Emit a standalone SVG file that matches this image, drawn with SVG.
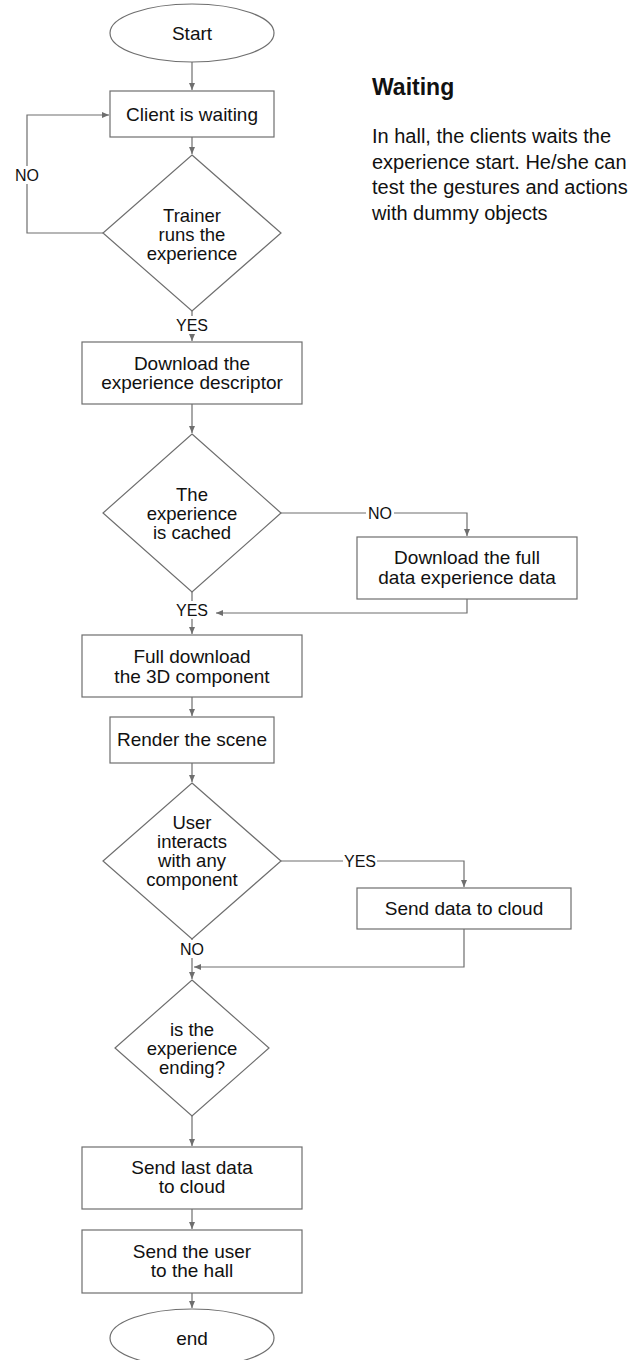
<svg xmlns="http://www.w3.org/2000/svg" width="634" height="1360" viewBox="0 0 634 1360">
<style>
.shape{fill:#fff;stroke:#6e6e6e;stroke-width:1.2}
.line{fill:none;stroke:#6e6e6e;stroke-width:1.2}
.t{font-family:"Liberation Sans",Arial,sans-serif;font-size:19px;fill:#111;text-anchor:middle}
.d{font-family:"Liberation Sans",Arial,sans-serif;font-size:18.5px;fill:#111;text-anchor:middle}
.lbl{font-family:"Liberation Sans",Arial,sans-serif;font-size:16px;fill:#111;text-anchor:middle}
.lblbg{fill:#fff;stroke:none}
.h{font-family:"Liberation Sans",Arial,sans-serif;font-size:23px;font-weight:bold;fill:#111}
.body{font-family:"Liberation Sans",Arial,sans-serif;font-size:20px;fill:#111}
</style>
<defs>
<marker id="arr" markerUnits="userSpaceOnUse" markerWidth="8" markerHeight="8" refX="7" refY="4" orient="auto">
<path d="M0,1 L7,4 L0,7 z" fill="#6e6e6e"/>
</marker>
</defs>
<rect width="634" height="1360" fill="#fff"/>

<g id="connectors">
<path class="line" d="M192,62 V90" marker-end="url(#arr)"/>
<path class="line" d="M192,137 V154" marker-end="url(#arr)"/>
<path class="line" d="M103,233 H27 V115 H109" marker-end="url(#arr)"/>
<path class="line" d="M192,311 V341" marker-end="url(#arr)"/>
<path class="line" d="M192,404 V433" marker-end="url(#arr)"/>
<path class="line" d="M281,513 H467 V536" marker-end="url(#arr)"/>
<path class="line" d="M192,592 V634" marker-end="url(#arr)"/>
<path class="line" d="M467,599 V613 H216" marker-end="url(#arr)"/>
<path class="line" d="M192,697 V716" marker-end="url(#arr)"/>
<path class="line" d="M192,763 V782" marker-end="url(#arr)"/>
<path class="line" d="M281,861 H464 V887" marker-end="url(#arr)"/>
<path class="line" d="M192,939 V979" marker-end="url(#arr)"/>
<path class="line" d="M464,929 V967 H194" marker-end="url(#arr)"/>
<path class="line" d="M192,1116 V1146" marker-end="url(#arr)"/>
<path class="line" d="M192,1209 V1229" marker-end="url(#arr)"/>
<path class="line" d="M192,1293 V1308" marker-end="url(#arr)"/>
<rect class="lblbg" x="13" y="166" width="28" height="18"/>
<text class="lbl" x="27" y="181">NO</text>
<rect class="lblbg" x="175" y="316" width="34" height="18"/>
<text class="lbl" x="192" y="331">YES</text>
<rect class="lblbg" x="366" y="504" width="28" height="18"/>
<text class="lbl" x="380" y="519">NO</text>
<rect class="lblbg" x="175" y="601" width="34" height="18"/>
<text class="lbl" x="192" y="616">YES</text>
<rect class="lblbg" x="343" y="852" width="34" height="18"/>
<text class="lbl" x="360" y="867">YES</text>
<rect class="lblbg" x="178" y="940" width="28" height="18"/>
<text class="lbl" x="192" y="955">NO</text>
</g>

<g id="start">
<ellipse class="shape" cx="192" cy="33" rx="82" ry="29"/>
<text class="t" x="192" y="39.5">Start</text>
</g>
<g id="client-waiting">
<rect class="shape" x="110" y="91" width="164" height="46"/>
<text class="t" x="192" y="121">Client is waiting</text>
</g>
<g id="trainer-runs">
<polygon class="shape" points="192,155 281,233 192,311 103,233"/>
<text class="d" x="192" y="221.5">Trainer</text>
<text class="d" x="192" y="240.5">runs the</text>
<text class="d" x="192" y="259.5">experience</text>
</g>
<g id="download-descriptor">
<rect class="shape" x="82" y="342" width="220" height="62"/>
<text class="t" x="192" y="370">Download the</text>
<text class="t" x="192" y="389">experience descriptor</text>
</g>
<g id="is-cached">
<polygon class="shape" points="192,434 281,513 192,592 103,513"/>
<text class="d" x="192" y="500.5">The</text>
<text class="d" x="192" y="519.5">experience</text>
<text class="d" x="192" y="538.5">is cached</text>
</g>
<g id="download-full">
<rect class="shape" x="357" y="537" width="220" height="62"/>
<text class="t" x="467" y="564">Download the full</text>
<text class="t" x="467" y="584">data experience data</text>
</g>
<g id="full-download-3d">
<rect class="shape" x="82" y="635" width="220" height="62"/>
<text class="t" x="192" y="663">Full download</text>
<text class="t" x="192" y="683">the 3D component</text>
</g>
<g id="render-scene">
<rect class="shape" x="110" y="717" width="164" height="46"/>
<text class="t" x="192" y="746">Render the scene</text>
</g>
<g id="user-interacts">
<polygon class="shape" points="192,783 281,861 192,939 103,861"/>
<text class="d" x="192" y="828.5">User</text>
<text class="d" x="192" y="847.5">interacts</text>
<text class="d" x="192" y="866.5">with any</text>
<text class="d" x="192" y="885.5">component</text>
</g>
<g id="send-data">
<rect class="shape" x="357" y="888" width="214" height="41"/>
<text class="t" x="464" y="915">Send data to cloud</text>
</g>
<g id="is-ending">
<polygon class="shape" points="192,980 269,1048 192,1116 115,1048"/>
<text class="d" x="192" y="1035.5">is the</text>
<text class="d" x="192" y="1054.5">experience</text>
<text class="d" x="192" y="1073.5">ending?</text>
</g>
<g id="send-last">
<rect class="shape" x="82" y="1147" width="220" height="62"/>
<text class="t" x="192" y="1174">Send last data</text>
<text class="t" x="192" y="1193">to cloud</text>
</g>
<g id="send-user">
<rect class="shape" x="82" y="1230" width="220" height="63"/>
<text class="t" x="192" y="1257.5">Send the user</text>
<text class="t" x="192" y="1276.5">to the hall</text>
</g>
<g id="end">
<ellipse class="shape" cx="192" cy="1338" rx="82" ry="29"/>
<text class="t" x="192" y="1344.5">end</text>
</g>
<g id="waiting-note">
<text class="h" x="372" y="95">Waiting</text>
<text class="body" x="372" y="143">In hall, the clients waits the</text>
<text class="body" x="372" y="168.5">experience start. He/she can</text>
<text class="body" x="372" y="194">test the gestures and actions</text>
<text class="body" x="372" y="220">with dummy objects</text>
</g>
</svg>
